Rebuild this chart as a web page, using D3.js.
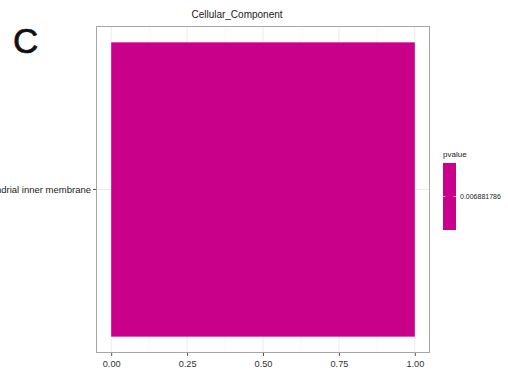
<!DOCTYPE html>
<html>
<head>
<meta charset="utf-8">
<script src="https://cdn.jsdelivr.net/npm/d3@7"></script>
<style>
  html, body { margin: 0; padding: 0; background: #fff; }
  svg { display: block; font-family: "Liberation Sans", Arial, sans-serif; }
</style>
</head>
<body>
<svg id="chart" width="508" height="371"></svg>
<script>
// GO enrichment: cellular component terms and their gene ratio / p-value
const terms = ["mitochondrial inner membrane"];
const ratios = [1.0];
const pvalues = [0.006881786];
const xTicks = [0, 0.25, 0.5, 0.75, 1.0];
const xMinor = [0.125, 0.375, 0.625, 0.875];
const title = "Cellular_Component";
const panelLetter = "C";
const legendTitle = "pvalue";

const svg = d3.select("#chart");
const panel = { left: 96, right: 430, top: 26, bottom: 353 };
const barColor = "#c8008a";

const x = d3.scaleLinear().domain([-0.05, 1.05]).range([panel.left, panel.right]);
const y = d3.scaleBand().domain(terms).range([panel.top, panel.bottom])
  .paddingInner(0.1).paddingOuter(0.047);

// panel background
svg.append("rect")
  .attr("x", panel.left).attr("y", panel.top)
  .attr("width", panel.right - panel.left).attr("height", panel.bottom - panel.top)
  .attr("fill", "#fff");

// grid lines
svg.append("g").selectAll("line").data(xMinor).join("line")
  .attr("x1", d => x(d)).attr("x2", d => x(d))
  .attr("y1", panel.top).attr("y2", panel.bottom)
  .attr("stroke", "#f2f2f2").attr("stroke-width", 0.6);
svg.append("g").selectAll("line").data(xTicks).join("line")
  .attr("x1", d => x(d)).attr("x2", d => x(d))
  .attr("y1", panel.top).attr("y2", panel.bottom)
  .attr("stroke", "#ebebeb").attr("stroke-width", 1);
svg.append("g").selectAll("line").data(terms).join("line")
  .attr("x1", panel.left).attr("x2", panel.right)
  .attr("y1", d => y(d) + y.bandwidth() / 2).attr("y2", d => y(d) + y.bandwidth() / 2)
  .attr("stroke", "#ebebeb").attr("stroke-width", 1);

// bars
svg.append("g").selectAll("rect").data(terms).join("rect")
  .attr("x", x(0))
  .attr("y", d => y(d))
  .attr("width", (d, i) => x(ratios[i]) - x(0))
  .attr("height", y.bandwidth())
  .attr("fill", barColor);

// panel border
svg.append("rect")
  .attr("x", panel.left + 0.5).attr("y", panel.top + 0.5)
  .attr("width", panel.right - panel.left - 1).attr("height", panel.bottom - panel.top - 1)
  .attr("fill", "none").attr("stroke", "#a6a6a6").attr("stroke-width", 1);

// x axis
const xAxis = d3.axisBottom(x).tickValues(xTicks).tickFormat(d3.format(".2f"))
  .tickSize(3).tickPadding(4);
const gx = svg.append("g").attr("transform", `translate(0,${panel.bottom})`).call(xAxis);
gx.select(".domain").remove();
gx.selectAll(".tick line").attr("stroke", "#555");
gx.selectAll(".tick text").attr("fill", "#333").style("font-size", "9.2px")
  .style("font-family", "'Liberation Sans', Arial, sans-serif");

// y axis
const yAxis = d3.axisLeft(y).tickSize(3).tickPadding(2);
const gy = svg.append("g").attr("transform", `translate(${panel.left},0)`).call(yAxis);
gy.select(".domain").remove();
gy.selectAll(".tick line").attr("stroke", "#555");
gy.selectAll(".tick text").attr("fill", "#222").style("font-size", "9.5px")
  .style("font-family", "'Liberation Sans', Arial, sans-serif");

// title, centred over the whole plot area
svg.append("text")
  .attr("x", 237).attr("y", 18)
  .attr("text-anchor", "middle")
  .style("font-size", "10px").attr("fill", "#222")
  .text(title);

// panel letter
svg.append("text")
  .attr("x", 13).attr("y", 53)
  .style("font-size", "35px").attr("fill", "#111")
  .attr("stroke", "#111").attr("stroke-width", 0.7)
  .text(panelLetter);

// colour bar legend
const legend = { x: 443, y: 163, w: 13, h: 67 };
svg.append("text")
  .attr("x", legend.x).attr("y", legend.y - 6)
  .style("font-size", "8px").attr("fill", "#222")
  .text(legendTitle);
svg.append("rect")
  .attr("x", legend.x).attr("y", legend.y)
  .attr("width", legend.w).attr("height", legend.h)
  .attr("fill", barColor);
const ly = legend.y + legend.h / 2;
[[legend.x, legend.x + 2.5], [legend.x + legend.w - 2.5, legend.x + legend.w]].forEach(([a, b]) => {
  svg.append("line").attr("x1", a).attr("x2", b).attr("y1", ly).attr("y2", ly)
    .attr("stroke", "#fff").attr("stroke-width", 0.6);
});
svg.append("text")
  .attr("x", legend.x + legend.w + 4).attr("y", ly + 2.5)
  .style("font-size", "7px").attr("fill", "#222")
  .text(String(pvalues[0]));
</script>
</body>
</html>
